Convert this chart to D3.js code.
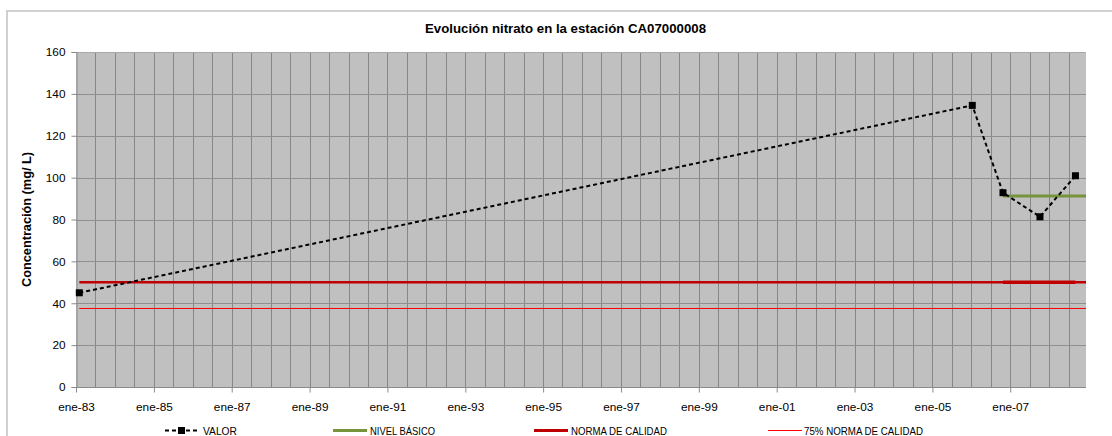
<!DOCTYPE html>
<html><head><meta charset="utf-8">
<script src="https://cdn.jsdelivr.net/npm/d3@7"></script>
<style>html,body{margin:0;padding:0;background:#fff;}svg{display:block;}</style>
</head><body>
<svg id="c" width="1112" height="436"></svg>
<script>
const title = "Evolución nitrato en la estación CA07000008";
const yLabel = "Concentración (mg/ L)";
const valorDates = ["1983-02-01", "2006-01-10", "2006-10-25", "2007-10-07", "2008-09-04"];
const valorValues = [45, 134.5, 92.8, 81.3, 100.9];
const nivelDates = ["2006-10-25", "2008-12-12"];
const nivelValues = [91.2, 91.2];
const normaDates = ["1983-02-01", "2008-12-12"];
const normaValues = [50, 50];
const normaOverlayDates = ["2006-10-25", "2008-09-04"];
const norma75Dates = ["1983-02-01", "2008-12-12"];
const norma75Values = [37.5, 37.5];
const yTicks = [0, 20, 40, 60, 80, 100, 120, 140, 160];
const xTickYears = [1983, 1985, 1987, 1989, 1991, 1993, 1995, 1997, 1999, 2001, 2003, 2005, 2007];
const xDomain = ["1983-01-01", "2008-12-12"];
const legendLabels = ["VALOR", "NIVEL BÁSICO", "NORMA DE CALIDAD", "75% NORMA DE CALIDAD"];

const P = d3.timeParse("%Y-%m-%d");
const fmtMon = ["ene","feb","mar","abr","may","jun","jul","ago","sep","oct","nov","dic"];
const svg = d3.select("#c");
const L = 76, R = 1086, T = 52, B = 387;
const x = d3.scaleTime().domain(xDomain.map(P)).range([L, R]);
const y = d3.scaleLinear().domain([0, 160]).range([B, T]);
const font = "'Liberation Sans', Arial, sans-serif";

// outer chart border
svg.append("path").attr("d", `M7,440 V11 H1120`).attr("fill", "none").attr("stroke", "#d0d0d0").attr("stroke-width", 2);

// plot bg
svg.append("rect").attr("x", L).attr("y", T).attr("width", R - L).attr("height", B - T).attr("fill", "#c0c0c0");

// vertical gridlines every 6 months
const vgrid = d3.timeMonth.every(6).range(x.domain()[0], d3.timeDay.offset(x.domain()[1], 1));
svg.append("g").selectAll("line").data(vgrid.filter(d => x(d) > L + 1)).join("line")
  .attr("x1", d => Math.round(x(d)) + 0.5).attr("x2", d => Math.round(x(d)) + 0.5)
  .attr("y1", T).attr("y2", B).attr("stroke", "#878787").attr("stroke-width", 1);
// horizontal gridlines
svg.append("g").selectAll("line").data(yTicks.filter(v => v > 0)).join("line")
  .attr("x1", L).attr("x2", R)
  .attr("y1", d => Math.round(y(d)) + 0.5).attr("y2", d => Math.round(y(d)) + 0.5)
  .attr("stroke", d => d === 160 ? "#a8a8a8" : "#8f8f8f").attr("stroke-width", 1);

// y axis
const yAxis = d3.axisLeft(y).tickValues(yTicks).tickSize(5).tickPadding(6);
const gy = svg.append("g").attr("transform", `translate(${L + 0.5},0)`).call(yAxis);
gy.select(".domain").attr("stroke", "#8a8a8a");
gy.selectAll(".tick line").attr("stroke", "#8a8a8a");
gy.selectAll("text").attr("font-family", font).attr("font-size", "11.8px").attr("fill", "#000");

// x axis
const xTickDates = xTickYears.map(yr => new Date(yr, 0, 1));
const xAxis = d3.axisBottom(x).tickValues(xTickDates).tickSize(5).tickPadding(10)
  .tickFormat(d => fmtMon[d.getMonth()] + "-" + d3.timeFormat("%y")(d));
const gx = svg.append("g").attr("transform", `translate(0,${B + 0.5})`).call(xAxis);
gx.select(".domain").attr("stroke", "#8a8a8a").attr("d", `M${L},0H${R}`);
gx.selectAll(".tick line").attr("stroke", "#8a8a8a");
gx.selectAll("text").attr("font-family", font).attr("font-size", "11.8px").attr("fill", "#000");

const line = d3.line().x(d => x(d[0])).y(d => y(d[1]));
const zip = (ds, vs) => ds.map((d, i) => [P(d), vs[i]]);

// reference lines
svg.append("path").datum(zip(norma75Dates, norma75Values)).attr("d", line)
  .attr("fill", "none").attr("stroke", "#ff0000").attr("stroke-width", 1);
svg.append("path").datum(zip(normaDates, normaValues)).attr("d", line)
  .attr("fill", "none").attr("stroke", "#c00000").attr("stroke-width", 2.6);
svg.append("path").datum(zip(normaOverlayDates, [50, 50])).attr("d", line)
  .attr("fill", "none").attr("stroke", "#c00000").attr("stroke-width", 3.6);
svg.append("path").datum(zip(nivelDates, nivelValues)).attr("d", line)
  .attr("fill", "none").attr("stroke", "#77933c").attr("stroke-width", 3);

// valor series
const vdata = zip(valorDates, valorValues);
svg.append("path").datum(vdata).attr("d", line)
  .attr("fill", "none").attr("stroke", "#000").attr("stroke-width", 2).attr("stroke-dasharray", "4,3");
svg.append("g").selectAll("rect").data(vdata).join("rect")
  .attr("x", d => x(d[0]) - 3.5).attr("y", d => y(d[1]) - 3.5).attr("width", 7).attr("height", 7).attr("fill", "#000");

// title
svg.append("text").attr("x", 565.5).attr("y", 33).attr("text-anchor", "middle")
  .attr("font-family", font).attr("font-weight", "bold").attr("font-size", "12.5px")
  .attr("textLength", 281).attr("lengthAdjust", "spacingAndGlyphs").text(title);

// y label
svg.append("text").attr("transform", `translate(31,${(T + B) / 2}) rotate(-90)`).attr("text-anchor", "middle")
  .attr("font-family", font).attr("font-weight", "bold").attr("font-size", "12.5px")
  .attr("textLength", 135).attr("lengthAdjust", "spacingAndGlyphs").text(yLabel);

// legend
const lg = svg.append("g").attr("font-family", font).attr("font-size", "10.5px");
const ly = 430.5;
const items = [
  {x0: 165, x1: 198, tx: 203, tl: 34, color: "#000", w: 2, dash: "4,3", marker: true},
  {x0: 333, x1: 367, tx: 370, tl: 65, color: "#77933c", w: 3},
  {x0: 534, x1: 568, tx: 571, tl: 96, color: "#c00000", w: 3},
  {x0: 768, x1: 802, tx: 804, tl: 119, color: "#ff0000", w: 1}
];
items.forEach((it, i) => {
  lg.append("line").attr("x1", it.x0).attr("x2", it.x1).attr("y1", ly).attr("y2", ly)
    .attr("stroke", it.color).attr("stroke-width", it.w).attr("stroke-dasharray", it.dash || null);
  if (it.marker) lg.append("rect").attr("x", (it.x0 + it.x1) / 2 - 3.5).attr("y", ly - 3.5).attr("width", 7).attr("height", 7).attr("fill", "#000");
  lg.append("text").attr("x", it.tx).attr("y", ly + 4).attr("textLength", it.tl).attr("lengthAdjust", "spacingAndGlyphs").text(legendLabels[i]);
});
</script>
</body></html>
